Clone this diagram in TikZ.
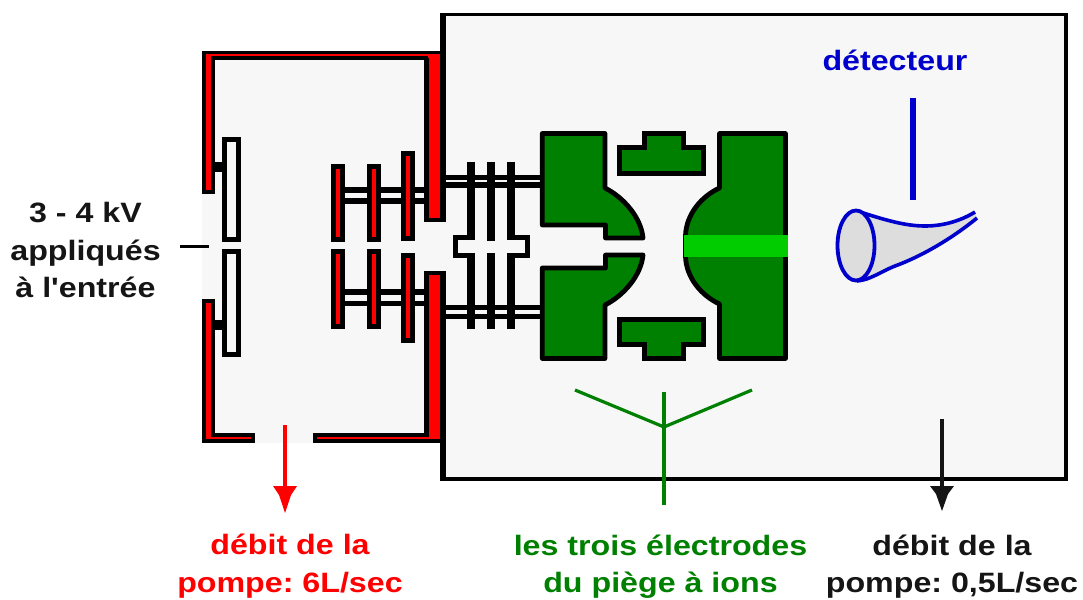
\documentclass[tikz,border=0pt]{standalone}
\usepackage{fontspec}
\newfontfamily\labfont[FakeStretch=1.15]{Liberation Sans}
\frenchspacing
\definecolor{panel}{HTML}{F7F7F7}
\definecolor{wallred}{HTML}{FF0000}
\definecolor{elec}{HTML}{008000}
\definecolor{beam}{HTML}{00CC00}
\definecolor{det}{HTML}{0000CC}
\definecolor{horn}{HTML}{DDDDDD}
\definecolor{ink}{HTML}{151515}
\tikzset{
 wall/.style={fill=wallred,draw=black,line width=3.8pt,line join=miter},
 lens/.style={fill=wallred,draw=black,line width=4.5pt},
 hollow/.style={fill=panel,draw=black,line width=5pt},
 electrode/.style={fill=elec,draw=black,line width=4.8pt,line join=round},
 lab/.style={font=\labfont\fontsize{28}{37.5}\selectfont\bfseries,align=center,inner sep=0pt},
}
\begin{document}
\begin{tikzpicture}[x=1pt,y=-1pt]
\useasboundingbox (0,0) rectangle (1083,599);
% panels
\fill[panel] (202,51) rectangle (445,443);
\fill[panel] (442,15) rectangle (1066,478);
% walls
\draw[wall] (204,192) -- (204,52.6) -- (442.5,52.6) -- (442.5,220) -- (426,220) -- (426,58.4) -- (213.2,58.4) -- (213.2,192) -- cycle;
\draw[wall] (204,301) -- (204,441) -- (253,441) -- (253,435) -- (213.2,435) -- (213.2,301) -- cycle;
\draw[wall] (315,441) -- (442.5,441) -- (442.5,273) -- (426,273) -- (426,435) -- (315,435) -- cycle;
\draw[black,line width=5pt] (426.5,58) -- (426.5,220) (426.5,273) -- (426.5,437);
% outer box
\draw[black,line width=3.5pt] (443,14.5) -- (1066,14.5) -- (1066,479) -- (443,479);
\draw[black,line width=5.5pt] (443,222) -- (443,13) (443,271) -- (443,481);
% first lens
\draw[line width=10pt] (215,167) -- (224,167) (215,324.5) -- (224,324.5);
\draw[hollow] (224.5,139.5) rectangle (238.5,239.5);
\draw[hollow] (224.5,251.5) rectangle (238.5,354.5);
% rails and stack
\foreach \y in {190,201,292,303.5}{\draw[black,line width=5.5pt] (345,\y) -- (424,\y);}
\draw[lens] (333.3,166.3) rectangle (342.7,239.7);
\draw[lens] (369.3,166.3) rectangle (378.7,239.7);
\draw[lens] (403.3,153.3) rectangle (412.7,238.7);
\draw[lens] (333.3,251.3) rectangle (342.7,326.7);
\draw[lens] (369.3,251.3) rectangle (378.7,326.7);
\draw[lens] (403.3,255.3) rectangle (412.7,340.7);
% rails to trap
\foreach \y in {177.5,185,307.5,316.5}{\draw[black,line width=5.2pt] (445,\y) -- (541,\y);}
\draw[line width=8pt] (491,162) -- (491,241) (491,253) -- (491,329);
\draw[line width=8pt] (471,162) -- (471,237) (511,162) -- (511,237) (471,256) -- (471,329) (511,256) -- (511,329);
\draw[line width=5pt,line join=miter] (475,237.5) -- (455.5,237.5) -- (455.5,255.5) -- (475,255.5);
\draw[line width=5pt,line join=miter] (507,237.5) -- (527.5,237.5) -- (527.5,255.5) -- (507,255.5);
% electrodes
\draw[electrode] (542.3,133.5) -- (605,133.5) -- (605,188) .. controls (623,197) and (641,217) .. (643,238) -- (605.5,238) -- (605.5,225) -- (542.3,225) -- cycle;
\draw[electrode] (542.3,358.5) -- (605,358.5) -- (605,305) .. controls (623,296) and (641,276) .. (643,255) -- (605.5,255) -- (605.5,268) -- (542.3,268) -- cycle;
\draw[electrode] (719.5,133.5) -- (785.5,133.5) -- (785.5,358.5) -- (719.5,358.5) -- (719.5,304) .. controls (702,296) and (686,278) .. (685.5,256) -- (685.5,236) .. controls (686,214) and (702,196) .. (719.5,188) -- cycle;
\fill[beam] (683.5,235) rectangle (788,257);
\draw[electrode,line join=miter] (644.5,133.5) -- (683.5,133.5) -- (683.5,147.5) -- (703.5,147.5) -- (703.5,173.5) -- (619.5,173.5) -- (619.5,147.5) -- (644.5,147.5) -- cycle;
\draw[electrode,line join=miter] (644.5,358.5) -- (683.5,358.5) -- (683.5,344.5) -- (703.5,344.5) -- (703.5,319.5) -- (619.5,319.5) -- (619.5,344.5) -- (644.5,344.5) -- cycle;
% green fork
\coordinate (forkL) at (575,390);
\coordinate (forkM) at (664,427);
\coordinate (forkR) at (752,390);
\coordinate (forkT) at (664,392);
\coordinate (forkB) at (664,505);
\draw[elec,line width=3.2pt] (forkL) -- (forkM) -- (forkR);
\draw[elec,line width=3.6pt] (forkT) -- (forkB);
% detector
\coordinate (detT) at (913,98);
\coordinate (detB) at (913,200);
\draw[det,line width=5.5pt] (detT) -- (detB);
\fill[horn] (857,211) .. controls (885,220) and (905,226) .. (925,226) .. controls (945,226) and (962,220) .. (975,212) -- (977,218) .. controls (955,236) and (925,255) .. (895,266) .. controls (880,272) and (870,280) .. (857,281) -- cycle;
\draw[det,line width=3.6pt] (857,211) .. controls (885,220) and (905,226) .. (925,226) .. controls (945,226) and (962,220) .. (975,212);
\draw[det,line width=3.6pt] (977,218) .. controls (955,236) and (925,255) .. (895,266) .. controls (880,272) and (870,280) .. (857,281);
\filldraw[fill=horn,draw=det,line width=3.8pt] (856,245.5) ellipse (18.5 and 35);
% little tick
\coordinate (tickL) at (180,246.5);
\coordinate (tickR) at (209,246.5);
\draw[black,line width=2.4pt] (tickL) -- (tickR);
% arrows
\coordinate (redS) at (285,425);
\coordinate (redE) at (285,490);
\draw[wallred,line width=4pt] (redS) -- (redE);
\fill[wallred] (273,486) -- (297,486) -- (291,495) -- (285,513) -- (279,495) -- cycle;
\coordinate (blkS) at (942,419);
\coordinate (blkE) at (942,490);
\draw[ink,line width=4pt] (blkS) -- (blkE);
\fill[ink] (930,486) -- (954,486) -- (948,494) -- (942,511) -- (936,494) -- cycle;
% labels
\node[lab,text=det] (ldet) at (895,60.5) {détecteur};
\node[lab,text=ink] (lkv) at (85.5,250) {3 - 4 kV\\appliqués\\à l'entrée};
\node[lab,text=wallred] (lred) at (290,566) {débit de la\\pompe: 6L/sec};
\node[lab,text=elec] (lgreen) at (660.5,566.5) {les trois électrodes\\du piège à ions};
\node[lab,text=ink] (lblk) at (952,566.5) {débit de la\\pompe: 0,5L/sec};
\end{tikzpicture}
\end{document}
